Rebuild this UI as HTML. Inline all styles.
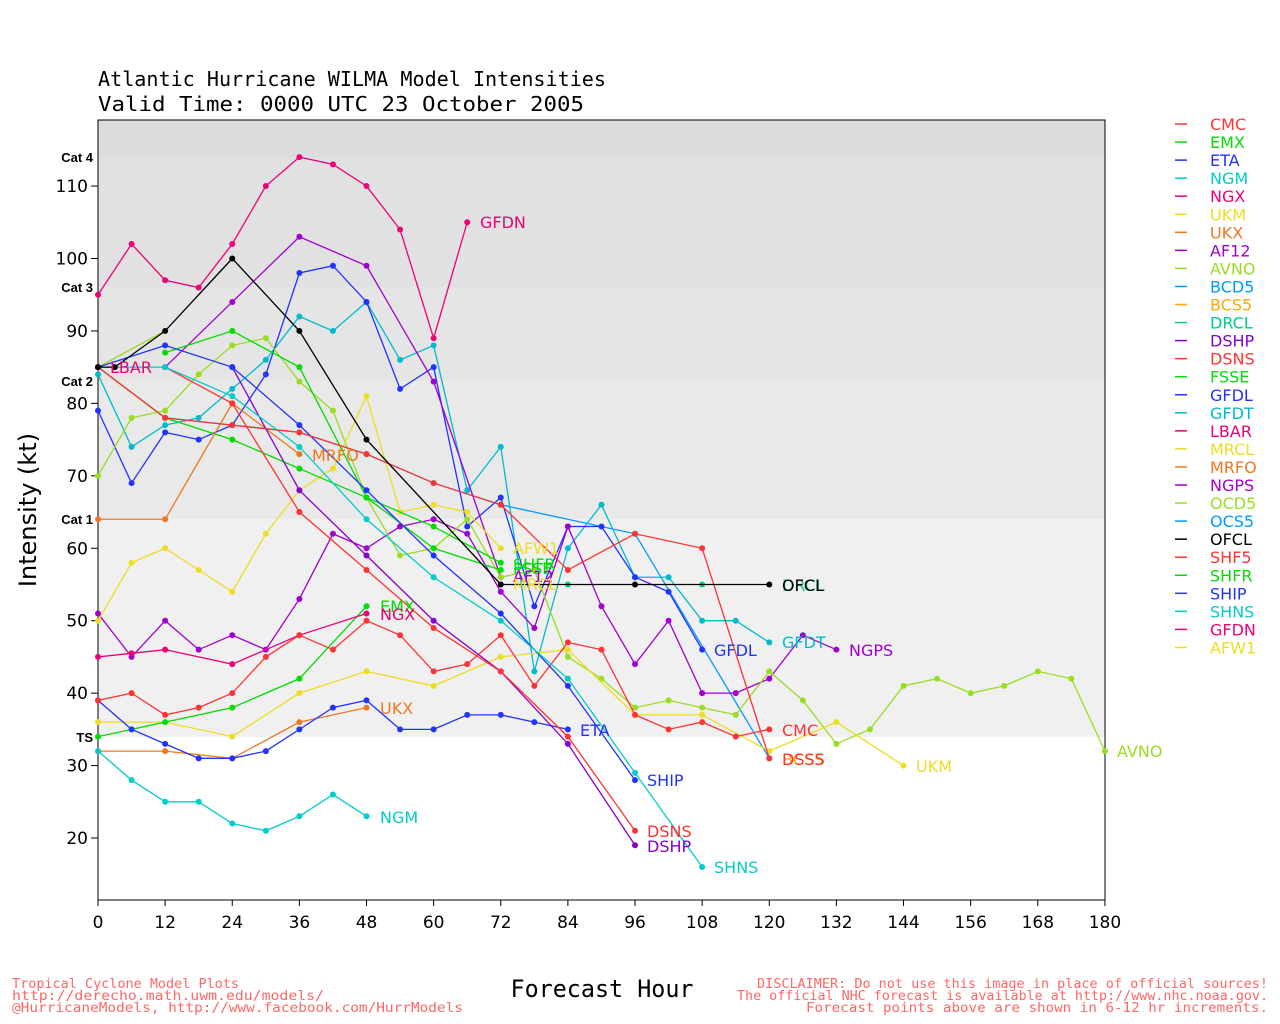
<!DOCTYPE html>
<html><head><meta charset="utf-8"><style>
body{margin:0;background:#fff;}
svg{display:block;font-family:"DejaVu Sans","Liberation Sans",sans-serif;}
.m{font-family:"DejaVu Sans Mono","Liberation Mono",monospace;}
</style></head><body>
<svg id="s" width="1280" height="1024" xmlns="http://www.w3.org/2000/svg">
<rect x="0" y="0" width="1280" height="1024" fill="#fff"/>
<rect x="98" y="120" width="1007" height="37" fill="#dcdcdc"/>
<rect x="98" y="157" width="1007" height="130" fill="#e1e1e1"/>
<rect x="98" y="287" width="1007" height="94" fill="#e5e5e5"/>
<rect x="98" y="381" width="1007" height="138" fill="#e9e9e9"/>
<rect x="98" y="519" width="1007" height="218" fill="#f0f0f0"/>
<rect x="98" y="120" width="1007" height="780" fill="none" stroke="#000" stroke-width="1"/>
<g font-size="13" font-weight="bold" font-family="Liberation Sans,sans-serif" text-anchor="end">
<text x="93" y="162">Cat 4</text><text x="93" y="292">Cat 3</text><text x="93" y="386">Cat 2</text><text x="93" y="524">Cat 1</text><text x="93" y="742">TS</text>
</g>
<g font-size="20" fill="#000" class="m">
<text x="98" y="86" textLength="508" lengthAdjust="spacingAndGlyphs">Atlantic Hurricane WILMA Model Intensities</text>
<text x="98" y="111" textLength="486" lengthAdjust="spacingAndGlyphs">Valid Time: 0000 UTC 23 October 2005</text>
</g>
<g id="ticks" font-size="17" fill="#000"></g>
<text transform="translate(36,510) rotate(-90)" font-size="24" text-anchor="middle">Intensity (kt)</text>
<text x="602" y="997" font-size="24" text-anchor="middle" class="m" textLength="183" lengthAdjust="spacingAndGlyphs">Forecast Hour</text>
<g font-size="13" fill="#ff6666" class="m">
<text x="12" y="988" textLength="227" lengthAdjust="spacingAndGlyphs">Tropical Cyclone Model Plots</text>
<text x="12" y="1000" textLength="312" lengthAdjust="spacingAndGlyphs">http://derecho.math.uwm.edu/models/</text>
<text x="12" y="1012" textLength="451" lengthAdjust="spacingAndGlyphs">@HurricaneModels, http://www.facebook.com/HurrModels</text>
<text x="757" y="988" textLength="511" lengthAdjust="spacingAndGlyphs">DISCLAIMER: Do not use this image in place of official sources!</text>
<text x="737" y="1000" textLength="531" lengthAdjust="spacingAndGlyphs">The official NHC forecast is available at http://www.nhc.noaa.gov.</text>
<text x="806" y="1012" textLength="462" lengthAdjust="spacingAndGlyphs">Forecast points above are shown in 6-12 hr increments.</text>
</g>
<g id="series"></g>
<g font-size="16">
<text x="480" y="228" fill="#ee0077">GFDN</text>
<text x="110" y="373" fill="#ee0077">LBAR</text>
<text x="312" y="461" fill="#ee7722">MRFO</text>
<text x="513" y="554" fill="#eedd22">AFW1</text>
<text x="513" y="570" fill="#00dd00">SHFR</text>
<text x="513" y="574" fill="#00dd00">FSSE</text>
<text x="513" y="582" fill="#a000d0">AF12</text>
<text x="513" y="590" fill="#eedd22">MRCL</text>
<text x="380" y="612" fill="#00dd00">EMX</text>
<text x="380" y="620" fill="#ee0077">NGX</text>
<text x="380" y="714" fill="#ee7722">UKX</text>
<text x="380" y="823" fill="#00cccc">NGM</text>
<text x="580" y="736" fill="#2233ff">ETA</text>
<text x="647" y="786" fill="#2233ff">SHIP</text>
<text x="647" y="837" fill="#ff3333">DSNS</text>
<text x="647" y="852" fill="#8800cc">DSHP</text>
<text x="714" y="873" fill="#00cccc">SHNS</text>
<text x="714" y="656" fill="#2233ff">GFDL</text>
<text x="782" y="648" fill="#00bbcc">GFDT</text>
<text x="849" y="656" fill="#a000d0">NGPS</text>
<text x="782" y="736" fill="#ff3333">CMC</text>
<text x="782" y="765" fill="#ffaa00">BCS5</text>
<text x="782" y="765" fill="#ff3333">DSSS</text>
<text x="782" y="591" fill="#00cc88">DRCL</text>
<text x="782" y="591" fill="#000">OFCL</text>
<text x="916" y="772" fill="#eedd22">UKM</text>
<text x="1117" y="757" fill="#99dd22">AVNO</text>
</g>
<g id="legend" font-size="16"></g>
</svg>
<script>
var X=h=>98+h*5.594, Y=v=>982.9-v*7.244, NS="http://www.w3.org/2000/svg";
var t=document.getElementById('ticks');
function el(n,a,p){var e=document.createElementNS(NS,n);for(var k in a)e.setAttribute(k,a[k]);p.appendChild(e);return e;}
for(var h=0;h<=180;h+=12){el('line',{x1:X(h),x2:X(h),y1:900,y2:906,stroke:'#000'},t);var tx=el('text',{x:X(h),y:928,'text-anchor':'middle'},t);tx.textContent=h;}
for(var v=20;v<=110;v+=10){el('line',{x1:91,x2:98,y1:Y(v),y2:Y(v),stroke:'#000'},t);var tx=el('text',{x:88,y:Y(v)+6,'text-anchor':'end'},t);tx.textContent=v;}
var S=[
["#ee0077",[[0,95],[6,102],[12,97],[18,96],[24,102],[30,110],[36,114],[42,113],[48,110],[54,104],[60,89],[66,105]]],
["#0099ff",[[0,85],[12,78],[24,77],[36,76],[48,73],[60,69],[72,66],[96,62],[120,31]]],
["#00bbcc",[[0,84],[6,74],[12,77],[18,78],[24,82],[30,86],[36,92],[42,90],[48,94],[54,86],[60,88],[66,68],[72,74],[78,43],[84,60],[90,66],[96,56],[102,56],[108,50],[114,50],[120,47]]],
["#2233ff",[[0,79],[6,69],[12,76],[18,75],[24,77],[30,84],[36,98],[42,99],[48,94],[54,82],[60,85],[66,63],[72,67],[78,52],[84,63],[90,63],[96,56],[102,54],[108,46]]],
["#a000d0",[[12,85],[24,94],[36,103],[48,99],[60,83],[72,56]]],
["#a000d0",[[0,51],[6,45],[12,50],[18,46],[24,48],[30,46],[36,53],[42,62],[48,60],[54,63],[60,64],[66,62],[72,54],[78,49],[84,63],[90,52],[96,44],[102,50],[108,40],[114,40],[120,42],[126,48],[132,46]]],
["#99dd22",[[0,70],[6,78],[12,79],[18,84],[24,88],[30,89],[36,83],[42,79],[48,67],[54,59],[60,60],[66,64],[72,56],[78,57],[84,45],[90,42],[96,38],[102,39],[108,38],[114,37],[120,43],[126,39],[132,33],[138,35],[144,41],[150,42],[156,40],[162,41],[168,43],[174,42],[180,32]]],
["#99dd22",[[0,85],[12,90]]],
["#eedd22",[[0,50],[6,58],[12,60],[18,57],[24,54],[30,62],[36,68],[42,71],[48,81],[54,65],[60,66],[66,65],[72,60]]],
["#eedd22",[[0,36],[12,36],[24,34],[36,40],[48,43],[60,41],[72,45],[84,46],[96,37],[108,37],[120,32],[132,36],[144,30]]],
["#00dd00",[[12,87],[24,90],[36,85],[48,67],[60,63],[72,58]]],
["#00dd00",[[0,85],[12,78],[24,75],[36,71],[48,67],[60,60],[72,57]]],
["#00dd00",[[0,34],[12,36],[24,38],[36,42],[48,52]]],
["#ee0077",[[0,45],[6,45.5],[12,46],[24,44],[36,48],[48,51]]],
["#ee7722",[[0,64],[12,64],[24,80],[36,73]]],
["#ee7722",[[0,32],[12,32],[24,31],[36,36],[48,38]]],
["#00cccc",[[0,32],[6,28],[12,25],[18,25],[24,22],[30,21],[36,23],[42,26],[48,23]]],
["#2233ff",[[0,39],[6,35],[12,33],[18,31],[24,31],[30,32],[36,35],[42,38],[48,39],[54,35],[60,35],[66,37],[72,37],[78,36],[84,35]]],
["#ff3333",[[0,39],[6,40],[12,37],[18,38],[24,40],[30,45],[36,48],[42,46],[48,50],[54,48],[60,43],[66,44],[72,48],[78,41],[84,47],[90,46],[96,37],[102,35],[108,36],[114,34],[120,35]]],
["#8800cc",[[24,85],[36,68],[48,59],[60,50],[72,43],[84,33],[96,19]]],
["#ff3333",[[12,85],[24,80],[36,65],[48,57],[60,49],[72,43],[84,34],[96,21]]],
["#2233ff",[[0,85],[12,88],[24,85],[36,77],[48,68],[60,59],[72,51],[84,41],[96,28]]],
["#00cccc",[[0,85],[12,85],[24,81],[36,74],[48,64],[60,56],[72,50],[84,42],[96,29],[108,16]]],
["#00cc88",[[84,55],[108,55]]],
["#ff3333",[[0,85],[12,78],[24,77],[36,76],[48,73],[60,69],[72,66],[84,57],[96,62],[108,60],[120,31]]],
["#000000",[[0,85],[3,85],[12,90],[24,100],[36,90],[48,75],[72,55],[96,55],[120,55]]]
];
var g=document.getElementById('series');
S.forEach(function(s){var c=s[0],p=s[1];
 if(p.length>1 && s!==S[23])el('polyline',{points:p.map(q=>X(q[0])+','+Y(q[1])).join(' '),fill:'none',stroke:c,'stroke-width':1.3},g);
 p.forEach(q=>el('circle',{cx:X(q[0]),cy:Y(q[1]),r:3,fill:c},g));});
var L=[["CMC","#ff3333"],["EMX","#00dd00"],["ETA","#2233ff"],["NGM","#00cccc"],["NGX","#ee0077"],["UKM","#eedd22"],["UKX","#ee7722"],["AF12","#a000d0"],["AVNO","#99dd22"],["BCD5","#0099ff"],["BCS5","#ffaa00"],["DRCL","#00cc88"],["DSHP","#8800cc"],["DSNS","#ff3333"],["FSSE","#00dd00"],["GFDL","#2233ff"],["GFDT","#00bbcc"],["LBAR","#ee0077"],["MRCL","#eedd22"],["MRFO","#ee7722"],["NGPS","#a000d0"],["OCD5","#99dd22"],["OCS5","#0099ff"],["OFCL","#000000"],["SHF5","#ff3333"],["SHFR","#00dd00"],["SHIP","#2233ff"],["SHNS","#00cccc"],["GFDN","#ee0077"],["AFW1","#eedd22"]];
var lg=document.getElementById('legend');
L.forEach(function(l,i){var y=124+i*18.05;el('line',{x1:1175,x2:1187,y1:y,y2:y,stroke:l[1],'stroke-width':1.5},lg);var tx=el('text',{x:1210,y:y+6,fill:l[1]},lg);tx.textContent=l[0];});
</script>
</body></html>
